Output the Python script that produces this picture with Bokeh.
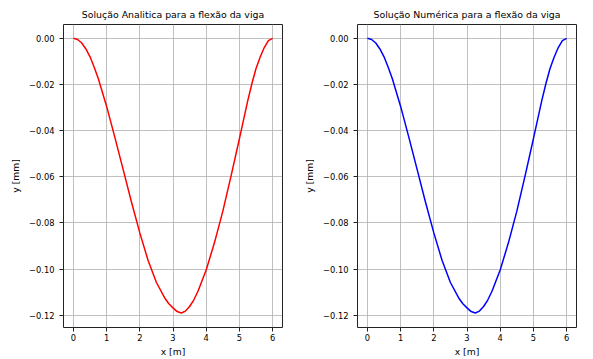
from bokeh.plotting import figure
from bokeh.layouts import row
from bokeh.models import Range1d, FixedTicker, CustomJSTickFormatter
from bokeh.embed import file_html
from bokeh.resources import INLINE

# Data
x_m = [0.0, 0.125, 0.25, 0.375, 0.5, 0.625, 0.75, 1.0, 1.25, 1.5, 1.75, 2.0,
       2.25, 2.5, 2.75, 2.875, 3.0, 3.125, 3.25, 3.375, 3.5, 3.625, 3.75, 4.0,
       4.25, 4.5, 4.75, 5.0, 5.25, 5.375, 5.5, 5.625, 5.75, 5.875, 6.0]
y_analitica = [0.0, -0.0005, -0.0020, -0.0046, -0.0080, -0.0125, -0.0175, -0.0295,
               -0.0430, -0.0570, -0.0710, -0.0843, -0.0963, -0.1058, -0.1125,
               -0.1150, -0.1168, -0.1184, -0.1190, -0.1182, -0.1162, -0.1134,
               -0.1097, -0.1004, -0.0885, -0.0750, -0.0596, -0.0436, -0.0272,
               -0.0198, -0.0132, -0.0082, -0.0040, -0.0010, 0.0]
y_numerica = [0.0, -0.0005, -0.0020, -0.0046, -0.0080, -0.0125, -0.0175, -0.0295,
              -0.0430, -0.0570, -0.0710, -0.0843, -0.0963, -0.1058, -0.1125,
              -0.1150, -0.1168, -0.1184, -0.1190, -0.1182, -0.1162, -0.1134,
              -0.1097, -0.1004, -0.0885, -0.0750, -0.0596, -0.0436, -0.0272,
              -0.0198, -0.0132, -0.0082, -0.0040, -0.0010, 0.0]
x_ticks = [0, 1, 2, 3, 4, 5, 6]
y_ticks = [0.0, -0.02, -0.04, -0.06, -0.08, -0.10, -0.12]
titles = ["Solução Analitica para a flexão da viga", "Solução Numérica para a flexão da viga"]
x_label = "x [m]"
y_label = "y [mm]"

FONT = "DejaVu Sans"


def make_fig(title, ys, color, border_left, border_right):
    p = figure(output_backend="svg", toolbar_location=None,
               frame_width=219, frame_height=303,
               x_range=Range1d(-0.3, 6.3), y_range=Range1d(-0.1253, 0.006),
               min_border_left=border_left, min_border_right=border_right,
               min_border_top=24, min_border_bottom=0,
               background_fill_color="white", border_fill_color="white")
    p.title.text = title
    p.title.align = "center"
    p.title.text_font = FONT
    p.title.text_font_size = "9.4px"
    p.title.text_font_style = "normal"
    p.title.text_color = "black"
    p.title.standoff = 9

    p.outline_line_color = "#222222"
    p.outline_line_width = 1
    p.outline_line_alpha = 1.0

    for ax in (p.xaxis[0], p.yaxis[0]):
        ax.axis_line_color = None
        ax.major_tick_in = 0
        ax.major_tick_out = 4
        ax.major_tick_line_color = "#222222"
        ax.minor_tick_line_color = None
        ax.major_label_text_font = FONT
        ax.major_label_text_font_size = "8.3px"
        ax.major_label_text_color = "black"
        ax.axis_label_text_font = FONT
        ax.axis_label_text_font_size = "9.2px"
        ax.axis_label_text_font_style = "normal"
        ax.axis_label_text_color = "black"

    p.xaxis.ticker = FixedTicker(ticks=x_ticks)
    p.yaxis.ticker = FixedTicker(ticks=y_ticks)
    p.xaxis.formatter = CustomJSTickFormatter(code="return tick.toFixed(0);")
    p.yaxis.formatter = CustomJSTickFormatter(
        code="return (tick < -1e-9 ? '\\u2212' : '') + Math.abs(tick).toFixed(2);")
    p.xaxis.axis_label = x_label
    p.yaxis.axis_label = y_label
    p.xaxis.major_label_standoff = 2
    p.xaxis.axis_label_standoff = 2
    p.yaxis.major_label_standoff = 5
    p.yaxis.axis_label_standoff = 5

    p.xgrid.grid_line_color = "#b0b0b0"
    p.ygrid.grid_line_color = "#b0b0b0"
    p.xgrid.grid_line_width = 0.8
    p.ygrid.grid_line_width = 0.8

    p.line(x_m, ys, line_color=color, line_width=1.5)
    return p


p1 = make_fig(titles[0], y_analitica, "#ff0000", 63, 12)
p2 = make_fig(titles[1], y_numerica, "#0000ff", 63, 10)
layout = row(p1, p2)

open("out.html", "w").write(file_html(layout, INLINE))
